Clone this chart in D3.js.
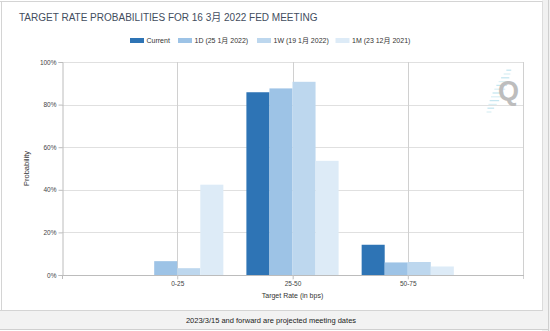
<!DOCTYPE html>
<html>
<head>
<meta charset="utf-8">
<script src="https://cdn.jsdelivr.net/npm/d3@7"></script>
<style>
  html, body { margin: 0; padding: 0; background: #ffffff; }
  svg { display: block; font-family: "Liberation Sans", Arial, "Noto Sans CJK SC", sans-serif; }
</style>
</head>
<body>
<svg id="chart" width="550" height="331"></svg>
<script>
// Target-rate buckets (bps) and the probability of each for four snapshots
const categories = ["0-25", "25-50", "50-75"];
const seriesNames = ["Current", "1D (25 1月 2022)", "1W (19 1月 2022)", "1M (23 12月 2021)"];
const current  = [0.0, 85.8, 14.2];
const oneDay   = [6.5, 87.6, 5.9];
const oneWeek  = [3.2, 90.7, 6.1];
const oneMonth = [42.4, 53.6, 4.0];
const yTicks = [0, 20, 40, 60, 80, 100];
const seriesColors = ["#2e74b5", "#9dc3e6", "#bdd7ee", "#ddebf7"];

const seriesValues = [current, oneDay, oneWeek, oneMonth];

const svg = d3.select("#chart");

// outer panel and footer strip
svg.append("rect").attr("x", 0).attr("y", 0).attr("width", 550).attr("height", 331).attr("fill", "#ffffff");
svg.append("rect").attr("x", 542).attr("y", 0).attr("width", 8).attr("height", 331).attr("fill", "#f1f1f1");
svg.append("rect").attr("x", 0).attr("y", 311).attr("width", 548).attr("height", 18).attr("fill", "#f2f2f2");
svg.append("line").attr("x1", 0).attr("x2", 543).attr("y1", 1.5).attr("y2", 1.5).attr("stroke", "#d4d4d4");
svg.append("line").attr("x1", 1.5).attr("x2", 1.5).attr("y1", 1).attr("y2", 311).attr("stroke", "#d4d4d4");
svg.append("line").attr("x1", 542.5).attr("x2", 542.5).attr("y1", 1).attr("y2", 311).attr("stroke", "#dcdcdc");
svg.append("line").attr("x1", 0).attr("x2", 543).attr("y1", 310.5).attr("y2", 310.5).attr("stroke", "#d4d4d4");
svg.append("line").attr("x1", 548.5).attr("x2", 548.5).attr("y1", 0).attr("y2", 331).attr("stroke", "#cfcfcf");
svg.append("line").attr("x1", 0).attr("x2", 549).attr("y1", 329.5).attr("y2", 329.5).attr("stroke", "#cfcfcf");

// title
svg.append("text")
  .attr("x", 19).attr("y", 20.5)
  .attr("font-size", 10).attr("fill", "#434d5e")
  .text("TARGET RATE PROBABILITIES FOR 16 3月 2022 FED MEETING");

// plot geometry
const plotLeft = 62, plotRight = 523, plotTop = 62, plotBottom = 275;

const x = d3.scalePoint().domain(categories).range([plotLeft, plotRight]).padding(1);
const step = x.step();
const inner = d3.scaleBand().domain(d3.range(seriesNames.length))
  .range([-step * 0.4, step * 0.4]).paddingInner(0);
const y = d3.scaleLinear().domain([0, 100]).range([plotBottom, plotTop]);

// horizontal grid
svg.append("g").selectAll("line").data(yTicks.filter(t => t > 0)).join("line")
  .attr("x1", plotLeft).attr("x2", plotRight)
  .attr("y1", d => Math.round(y(d)) + 0.5).attr("y2", d => Math.round(y(d)) + 0.5)
  .attr("stroke", "#e0e0e0");

// vertical grid at each category and at the right edge
svg.append("g").selectAll("line").data(categories).join("line")
  .attr("x1", d => Math.round(x(d)) + 0.5).attr("x2", d => Math.round(x(d)) + 0.5)
  .attr("y1", plotTop).attr("y2", plotBottom + 4)
  .attr("stroke", "#d0d0d0");
svg.append("line").attr("x1", plotRight + 0.5).attr("x2", plotRight + 0.5)
  .attr("y1", plotTop).attr("y2", plotBottom + 4).attr("stroke", "#d0d0d0");

// bars
const groups = svg.append("g").selectAll("g").data(categories).join("g")
  .attr("transform", d => `translate(${x(d)},0)`);
groups.selectAll("rect")
  .data((c, ci) => seriesValues.map((vals, si) => ({ si, v: vals[ci] })))
  .join("rect")
  .attr("x", d => inner(d.si))
  .attr("width", inner.bandwidth())
  .attr("y", d => y(d.v))
  .attr("height", d => y(0) - y(d.v))
  .attr("fill", d => seriesColors[d.si]);

// y axis
const yAxis = svg.append("g")
  .attr("transform", `translate(${plotLeft + 0.5},0)`)
  .call(d3.axisLeft(y).tickValues(yTicks).tickFormat(d => d + "%").tickSize(4).tickPadding(2));
yAxis.select(".domain").attr("stroke", "#bcbcbc");
yAxis.selectAll(".tick line").attr("stroke", "#bcbcbc");
yAxis.selectAll(".tick text").attr("font-size", 6.5).attr("fill", "#444")
  .attr("font-family", "'Liberation Sans', Arial, sans-serif");

// x axis
const xAxis = svg.append("g")
  .attr("transform", `translate(0,${plotBottom + 0.5})`)
  .call(d3.axisBottom(x).tickSize(4).tickPadding(2).tickSizeOuter(0));
xAxis.select(".domain").attr("stroke", "#bcbcbc").attr("d", `M${plotLeft},0H${plotRight + 1}`);
xAxis.selectAll(".tick line").attr("stroke", "#d0d0d0");
xAxis.selectAll(".tick text").attr("font-size", 6.5).attr("fill", "#444")
  .attr("font-family", "'Liberation Sans', Arial, sans-serif");
svg.append("line").attr("x1", plotLeft + 0.5).attr("x2", plotLeft + 0.5)
  .attr("y1", plotBottom).attr("y2", plotBottom + 4).attr("stroke", "#bcbcbc");

// axis titles
svg.append("text")
  .attr("transform", `translate(29,${(plotTop + plotBottom) / 2}) rotate(-90)`)
  .attr("text-anchor", "middle").attr("font-size", 7.5).attr("fill", "#333")
  .text("Probability");
svg.append("text")
  .attr("x", (plotLeft + plotRight) / 2).attr("y", 298)
  .attr("text-anchor", "middle").attr("font-size", 7).attr("fill", "#333")
  .text("Target Rate (in bps)");

// legend
const legendX = [130, 178, 257, 335.5];
const legend = svg.append("g").selectAll("g").data(seriesNames).join("g")
  .attr("transform", (d, i) => `translate(${legendX[i]},38)`);
legend.append("rect").attr("width", 14).attr("height", 5).attr("fill", (d, i) => seriesColors[i]);
legend.append("text").attr("x", 16.5).attr("y", 5.2)
  .attr("font-size", 7).attr("fill", "#333").text(d => d);

// watermark logo: diagonal fan of short streaks behind a grey "Q"
const logo = svg.append("g");
d3.range(12).forEach(i => {
  const cx = 489 + i * 1.8, cy = 112 - i * 3.8;
  const half = 2 + 3.5 * Math.sin(Math.PI * (i + 0.5) / 12);
  logo.append("line")
    .attr("x1", cx - half).attr("x2", cx + half)
    .attr("y1", cy).attr("y2", cy)
    .attr("stroke", i % 2 ? "#c6e6f0" : "#dcf0f5").attr("stroke-width", 1.3);
});
logo.append("text").attr("x", 498).attr("y", 100)
  .attr("font-size", 27).attr("font-weight", "bold").attr("fill", "#bdbdbd")
  .text("Q");

// footer note
svg.append("text")
  .attr("x", 271).attr("y", 322.5)
  .attr("text-anchor", "middle").attr("font-size", 7.5).attr("fill", "#222")
  .text("2023/3/15 and forward are projected meeting dates");
</script>
</body>
</html>
